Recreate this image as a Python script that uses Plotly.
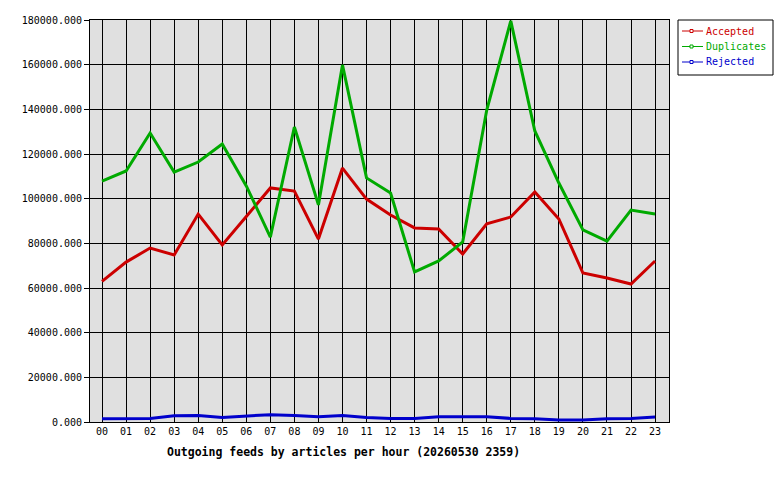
import plotly.graph_objects as go

hours = ["00","01","02","03","04","05","06","07","08","09","10","11",
         "12","13","14","15","16","17","18","19","20","21","22","23"]
accepted = [63000, 71600, 77900, 74800, 93100, 79300, 92000, 104800, 103400, 81900, 113700, 99800,
            92700, 86900, 86400, 75200, 88700, 91800, 103000, 90900, 66700, 64500, 61800, 72100]
duplicates = [107900, 112400, 129400, 111900, 116400, 124500, 105700, 82800, 132100, 97200, 159900, 109300,
              102500, 67200, 72100, 80600, 139700, 179600, 130300, 107000, 86000, 81000, 94900, 93100]
rejected = [1500, 1500, 1600, 2800, 2900, 2000, 2800, 3300, 2900, 2400, 2900, 2000,
            1600, 1600, 2400, 2400, 2400, 1600, 1500, 900, 900, 1500, 1600, 2200]
y_ticks = [0, 20000, 40000, 60000, 80000, 100000, 120000, 140000, 160000, 180000]

series = [("Accepted", accepted, "#cc0000"),
          ("Duplicates", duplicates, "#00aa00"),
          ("Rejected", rejected, "#0000cc")]

# plot area in pixels
L, R, T, B = 90, 669, 20, 422
W, H = R - L, B - T
def px(x): return (x - L) / W
def py(y): return (B - y) / H

xs = list(range(len(hours)))
fig = go.Figure()
for name, vals, col in series:
    fig.add_trace(go.Scatter(x=xs, y=vals, mode="lines",
                             line=dict(color=col, width=3), name=name,
                             showlegend=False))

font = "DejaVu Sans Mono"
shapes = [dict(type="rect", xref="paper", yref="paper",
               x0=px(678), x1=px(773), y0=py(75), y1=py(20),
               line=dict(color="black", width=1), fillcolor="white", layer="above")]
annotations = []
for i, (name, vals, col) in enumerate(series):
    yy = 31 + 15.5 * i
    shapes.append(dict(type="line", xref="paper", yref="paper",
                       x0=px(682), x1=px(703), y0=py(yy), y1=py(yy),
                       line=dict(color=col, width=1), layer="above"))
    shapes.append(dict(type="rect", xref="paper", yref="paper",
                       x0=px(690), x1=px(693), y0=py(yy + 1.5), y1=py(yy - 1.5),
                       line=dict(color=col, width=1), fillcolor="white", layer="above"))
    annotations.append(dict(text=name, xref="paper", yref="paper",
                            x=px(704), y=py(yy), xanchor="left", yanchor="middle",
                            showarrow=False, font=dict(family=font, size=10, color=col)))

annotations.append(dict(text="<b>Outgoing feeds by articles per hour (20260530 2359)</b>",
                        xref="paper", yref="paper", x=px(343), y=py(452),
                        xanchor="center", yanchor="middle", showarrow=False,
                        font=dict(family=font, size=11.5, color="black")))

fig.update_layout(
    width=780, height=480,
    margin=dict(l=L, r=780 - R, t=T, b=480 - B, autoexpand=False),
    paper_bgcolor="white", plot_bgcolor="#e0e0e0",
    font=dict(family=font, size=10, color="black"),
    showlegend=False,
    xaxis=dict(range=[-0.5, 23.58], tickmode="array", tickvals=xs, ticktext=hours,
               showgrid=True, gridcolor="black", gridwidth=1, zeroline=False,
               showline=True, linecolor="black", linewidth=1, mirror=True,
               ticks="", tickfont=dict(family=font, size=10), automargin=False),
    yaxis=dict(range=[0, 180000], tickmode="array", tickvals=y_ticks,
               tickformat=".3f", showgrid=True, gridcolor="black", gridwidth=1,
               zeroline=False, showline=True, linecolor="black", linewidth=1,
               mirror=True, ticks="outside", ticklen=5, tickcolor="black",
               tickfont=dict(family=font, size=10), automargin=False),
    shapes=shapes,
    annotations=annotations,
)

fig.write_html("out.html")
